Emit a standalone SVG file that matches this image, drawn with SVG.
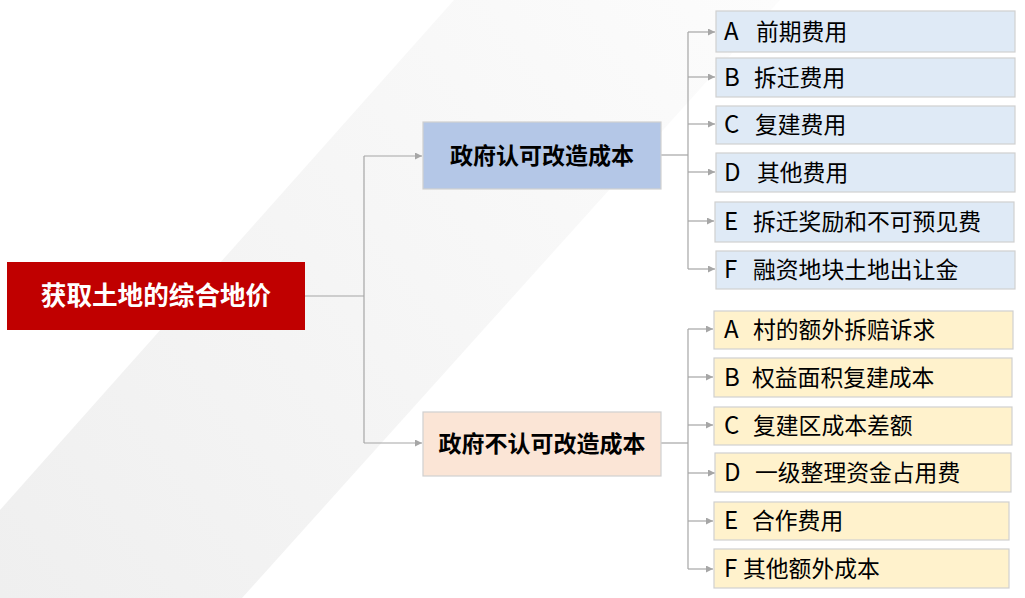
<svg xmlns="http://www.w3.org/2000/svg" width="1025" height="598" viewBox="0 0 1025 598">
<defs>
<linearGradient id="band" x1="0" y1="598" x2="780" y2="0" gradientUnits="userSpaceOnUse">
<stop offset="0" stop-color="#efefef"/>
<stop offset="1" stop-color="#fcfcfc"/>
</linearGradient>
<marker id="arr" markerWidth="8" markerHeight="8" refX="7" refY="3.5" orient="auto" markerUnits="userSpaceOnUse">
<path d="M0,0 L7,3.5 L0,7 Z" fill="#a6a6a6"/>
</marker>
</defs>
<style>
.t{font-family:"Noto Sans CJK SC","Microsoft YaHei",sans-serif}
.bold{font-weight:bold}
.item{font-size:24px;fill:#000}
.item tspan{font-size:22.8px}
.bx{stroke:#d0d0d0;stroke-width:1.2}
.blue{fill:#dfeaf6}
.yel{fill:#fff2cc}
.ln{fill:none;stroke:#a6a6a6;stroke-width:1.2}
</style>
<rect width="1025" height="598" fill="#ffffff"/>
<polygon points="454,0 780,0 242,598 0,598 0,510" fill="url(#band)"/>

<g id="connectors">
<path class="ln" d="M305,296 H364"/>
<path class="ln" d="M364,156 V443"/>
<path class="ln" d="M364,156 H422" marker-end="url(#arr)"/>
<path class="ln" d="M364,443 H422" marker-end="url(#arr)"/>
<path class="ln" d="M661,155 H688"/>
<path class="ln" d="M688,32 V269"/>
<path class="ln" d="M688,32 H715" marker-end="url(#arr)"/>
<path class="ln" d="M688,77 H715" marker-end="url(#arr)"/>
<path class="ln" d="M688,124 H715" marker-end="url(#arr)"/>
<path class="ln" d="M688,172 H715" marker-end="url(#arr)"/>
<path class="ln" d="M688,221 H714" marker-end="url(#arr)"/>
<path class="ln" d="M688,269 H715" marker-end="url(#arr)"/>
<path class="ln" d="M661,443 H688"/>
<path class="ln" d="M688,329 V569"/>
<path class="ln" d="M688,329 H713" marker-end="url(#arr)"/>
<path class="ln" d="M688,377 H713" marker-end="url(#arr)"/>
<path class="ln" d="M688,425 H713" marker-end="url(#arr)"/>
<path class="ln" d="M688,473 H715" marker-end="url(#arr)"/>
<path class="ln" d="M688,521 H713" marker-end="url(#arr)"/>
<path class="ln" d="M688,569 H713" marker-end="url(#arr)"/>
</g>

<g id="root">
<rect x="7" y="262" width="298" height="68" fill="#c00000"/>
<text class="t bold" x="156" y="305" font-size="25.6" fill="#ffffff" text-anchor="middle">获取土地的综合地价</text>
</g>

<g id="gov-approved">
<rect class="bx" x="423" y="122" width="238" height="67" fill="#b4c7e7"/>
<text class="t bold" x="542" y="164" font-size="23" fill="#000" text-anchor="middle">政府认可改造成本</text>
</g>

<g id="gov-not-approved">
<rect class="bx" x="423" y="412" width="238" height="64" fill="#fbe5d6"/>
<text class="t bold" x="542" y="452" font-size="23" fill="#000" text-anchor="middle">政府不认可改造成本</text>
</g>

<g id="a1"><rect class="bx blue" x="716" y="11" width="299" height="41"/><text class="t item" x="724" y="40">A <tspan x="756">前期费用</tspan></text></g>
<g id="b1"><rect class="bx blue" x="716" y="58" width="299" height="39"/><text class="t item" x="724" y="86">B <tspan x="754">拆迁费用</tspan></text></g>
<g id="c1"><rect class="bx blue" x="716" y="106" width="299" height="38"/><text class="t item" x="724" y="133">C <tspan x="755">复建费用</tspan></text></g>
<g id="d1"><rect class="bx blue" x="716" y="153" width="299" height="39"/><text class="t item" x="724" y="181">D <tspan x="757">其他费用</tspan></text></g>
<g id="e1"><rect class="bx blue" x="715" y="202" width="299" height="40"/><text class="t item" x="724" y="230">E <tspan x="753">拆迁奖励和不可预见费</tspan></text></g>
<g id="f1"><rect class="bx blue" x="716" y="251" width="299" height="38"/><text class="t item" x="724" y="278">F <tspan x="753">融资地块土地出让金</tspan></text></g>

<g id="a2"><rect class="bx yel" x="714" y="311" width="299" height="38"/><text class="t item" x="724" y="338">A <tspan x="753">村的额外拆赔诉求</tspan></text></g>
<g id="b2"><rect class="bx yel" x="714" y="358" width="298" height="39"/><text class="t item" x="724" y="386">B <tspan x="752">权益面积复建成本</tspan></text></g>
<g id="c2"><rect class="bx yel" x="714" y="407" width="298" height="38"/><text class="t item" x="724" y="434">C <tspan x="753">复建区成本差额</tspan></text></g>
<g id="d2"><rect class="bx yel" x="715" y="453" width="296" height="39"/><text class="t item" x="724" y="481">D <tspan x="755">一级整理资金占用费</tspan></text></g>
<g id="e2"><rect class="bx yel" x="714" y="502" width="295" height="38"/><text class="t item" x="724" y="529">E <tspan x="752">合作费用</tspan></text></g>
<g id="f2"><rect class="bx yel" x="714" y="549" width="295" height="39"/><text class="t item" x="724" y="577">F <tspan x="743">其他额外成本</tspan></text></g>
</svg>
